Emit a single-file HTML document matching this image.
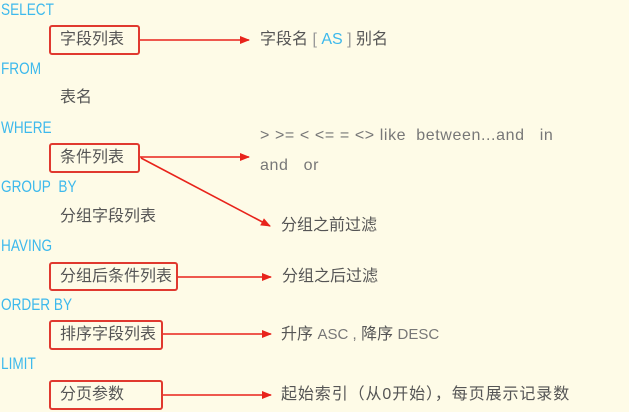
<!DOCTYPE html>
<html><head><meta charset="utf-8"><style>
body{margin:0;width:629px;height:412px;background:#fefbe7;position:relative;overflow:hidden;font-family:"Liberation Sans","Noto Sans CJK SC",sans-serif;}
.k{position:absolute;left:1px;color:#3db9ec;font-size:17px;line-height:18px;transform:scaleX(0.8);transform-origin:0 0;}
.t{position:absolute;color:#555;font-size:16px;line-height:20px;white-space:nowrap;}
.b{position:absolute;border:2px solid #e0392f;border-radius:3px;box-sizing:border-box;color:#555;font-size:16px;line-height:25px;padding-left:9px;white-space:nowrap;}
.g{color:#777;font-size:15px;}
</style></head><body>
<div class="k" style="top:1px">SELECT</div>
<div class="k" style="top:60px">FROM</div>
<div class="k" style="top:119px">WHERE</div>
<div class="k" style="top:178px">GROUP&nbsp; BY</div>
<div class="k" style="top:237px">HAVING</div>
<div class="k" style="top:296px">ORDER BY</div>
<div class="k" style="top:355px">LIMIT</div>

<div class="b" style="left:49px;top:25px;width:91px;height:30px">字段列表</div>
<div class="b" style="left:49px;top:143px;width:91px;height:30px">条件列表</div>
<div class="b" style="left:49px;top:262px;width:129px;height:29px">分组后条件列表</div>
<div class="b" style="left:49px;top:320px;width:114px;height:30px">排序字段列表</div>
<div class="b" style="left:49px;top:380px;width:114px;height:30px">分页参数</div>

<div class="t" style="left:60px;top:88px">表名</div>
<div class="t" style="left:60px;top:207px">分组字段列表</div>

<div class="t" style="left:260px;top:30px">字段名 <span style="color:#999">[</span> <span style="color:#3db9ec">AS</span> <span style="color:#999">]</span> 别名</div>
<div class="t g" style="left:260px;top:126px;font-size:16px;letter-spacing:0.6px">&gt; &gt;= &lt; &lt;= = &lt;&gt; like&nbsp; between...and&nbsp;&nbsp; in</div>
<div class="t g" style="left:260px;top:156px;font-size:16px;letter-spacing:0.6px">and&nbsp;&nbsp; or</div>
<div class="t" style="left:281px;top:216px">分组之前过滤</div>
<div class="t" style="left:282px;top:267px">分组之后过滤</div>
<div class="t" style="left:281px;top:325px">升序 <span class="g">ASC ,</span> 降序 <span class="g">DESC</span></div>
<div class="t" style="left:281px;top:385px;letter-spacing:0.9px">起始索引（从0开始），每页展示记录数</div>

<svg width="629" height="412" style="position:absolute;left:0;top:0">
<defs><marker id="a" markerWidth="10" markerHeight="8" refX="9" refY="4" orient="auto" markerUnits="userSpaceOnUse"><path d="M0,0 L10,4 L0,8z" fill="#e8231b"/></marker></defs>
<g stroke="#e8231b" stroke-width="1.6" fill="none" marker-end="url(#a)">
<line x1="140" y1="40" x2="249" y2="40"/>
<line x1="140" y1="157" x2="249" y2="157"/>
<line x1="141" y1="158" x2="270" y2="226"/>
<line x1="178" y1="277" x2="271" y2="277"/>
<line x1="163" y1="334" x2="271" y2="334"/>
<line x1="163" y1="395" x2="271" y2="395"/>
</g></svg>
</body></html>
